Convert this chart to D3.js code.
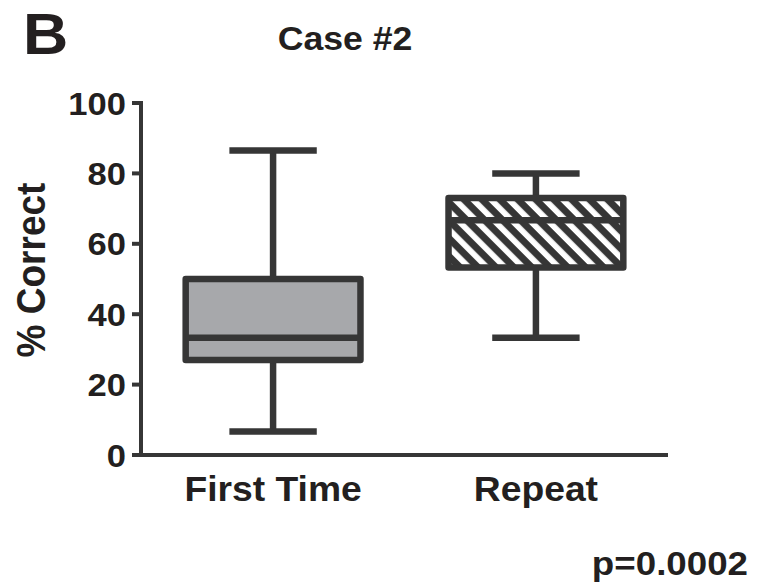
<!DOCTYPE html>
<html>
<head>
<meta charset="utf-8">
<script src="https://cdnjs.cloudflare.com/ajax/libs/d3/7.8.5/d3.min.js"></script>
<style>
  body { margin: 0; background: #fff; }
  text { font-family: "Liberation Sans", Arial, sans-serif; font-weight: bold; fill: #231f20; }
</style>
</head>
<body>
<script>
let width = 759
let height = 585

// data
let groups = ["First Time", "Repeat"]
let mins    = [6.7, 33.3]
let q1s     = [27, 53.3]
let medians = [33.3, 66.7]
let q3s     = [50, 73]
let maxs    = [86.5, 80]
let yTicks  = [0, 20, 40, 60, 80, 100]

let lineColor = "#363636"
let stretch = 1.08

let svg = d3.select("body").append("svg")
    .attr("width", width)
    .attr("height", height)

let defs = svg.append("defs")
defs.append("pattern")
    .attr("id", "hatch")
    .attr("patternUnits", "userSpaceOnUse")
    .attr("width", 12.7)
    .attr("height", 12.7)
    .attr("patternTransform", "rotate(45)")
  .append("rect")
    .attr("x", 0).attr("y", 0)
    .attr("width", 12.7).attr("height", 7)
    .attr("fill", lineColor)

let y = d3.scaleLinear().domain([0, 100]).range([455, 103])
let x = d3.scaleBand().domain(groups).range([141, 668])
    .paddingInner(0.335).paddingOuter(0.17)

let stretchedText = (sel, px, py, txt, size, anchor) =>
    sel.append("text")
        .attr("transform", "translate(" + px + "," + py + ") scale(" + stretch + ",1)")
        .attr("font-size", size)
        .attr("text-anchor", anchor)
        .text(txt)

// y axis
let yAxis = svg.append("g")
yAxis.append("line")
    .attr("x1", 141).attr("x2", 141)
    .attr("y1", y(100) - 2).attr("y2", y(0) + 2)
    .attr("stroke", lineColor).attr("stroke-width", 4)
yAxis.selectAll(".tick").data(yTicks).enter().append("line")
    .attr("class", "tick")
    .attr("x1", 132).attr("x2", 141)
    .attr("y1", d => y(d)).attr("y2", d => y(d))
    .attr("stroke", lineColor).attr("stroke-width", 4)
yTicks.forEach(t => stretchedText(yAxis, 126, y(t) + 11.5, t, 32, "end"))

// x axis
svg.append("line")
    .attr("x1", 139).attr("x2", 668)
    .attr("y1", y(0)).attr("y2", y(0))
    .attr("stroke", lineColor).attr("stroke-width", 4)
groups.forEach(g => stretchedText(svg, x(g) + x.bandwidth() / 2, 501, g, 34.5, "middle"))

// boxes
let bw = x.bandwidth()
let boxes = svg.selectAll(".box").data(groups).enter().append("g").attr("class", "box")

boxes.append("line")
    .attr("x1", d => x(d) + bw / 2).attr("x2", d => x(d) + bw / 2)
    .attr("y1", (d, i) => y(maxs[i])).attr("y2", (d, i) => y(q3s[i]))
    .attr("stroke", lineColor).attr("stroke-width", 6.5)
boxes.append("line")
    .attr("x1", d => x(d) + bw / 2).attr("x2", d => x(d) + bw / 2)
    .attr("y1", (d, i) => y(q1s[i])).attr("y2", (d, i) => y(mins[i]))
    .attr("stroke", lineColor).attr("stroke-width", 6.5)
boxes.append("line")
    .attr("x1", d => x(d) + bw / 4).attr("x2", d => x(d) + bw * 3 / 4)
    .attr("y1", (d, i) => y(maxs[i])).attr("y2", (d, i) => y(maxs[i]))
    .attr("stroke", lineColor).attr("stroke-width", 6.5)
boxes.append("line")
    .attr("x1", d => x(d) + bw / 4).attr("x2", d => x(d) + bw * 3 / 4)
    .attr("y1", (d, i) => y(mins[i])).attr("y2", (d, i) => y(mins[i]))
    .attr("stroke", lineColor).attr("stroke-width", 6.5)

boxes.append("rect")
    .attr("x", d => x(d))
    .attr("y", (d, i) => y(q3s[i]))
    .attr("width", bw)
    .attr("height", (d, i) => y(q1s[i]) - y(q3s[i]))
    .attr("fill", (d, i) => i === 0 ? "#a7a8ab" : "url(#hatch)")
    .attr("stroke", lineColor).attr("stroke-width", 6.5)
    .attr("stroke-linejoin", "round")
boxes.append("line")
    .attr("x1", d => x(d)).attr("x2", d => x(d) + bw)
    .attr("y1", (d, i) => y(medians[i])).attr("y2", (d, i) => y(medians[i]))
    .attr("stroke", lineColor).attr("stroke-width", 6.5)

// labels
stretchedText(svg, 23, 54, "B", 58, "start")
stretchedText(svg, 345, 50, "Case #2", 33, "middle")
svg.append("text")
    .attr("transform", "translate(45,270) rotate(-90) scale(1," + stretch + ")")
    .attr("font-size", 37)
    .attr("text-anchor", "middle")
    .text("% Correct")
stretchedText(svg, 748, 575, "p=0.0002", 34, "end")
</script>
</body>
</html>
